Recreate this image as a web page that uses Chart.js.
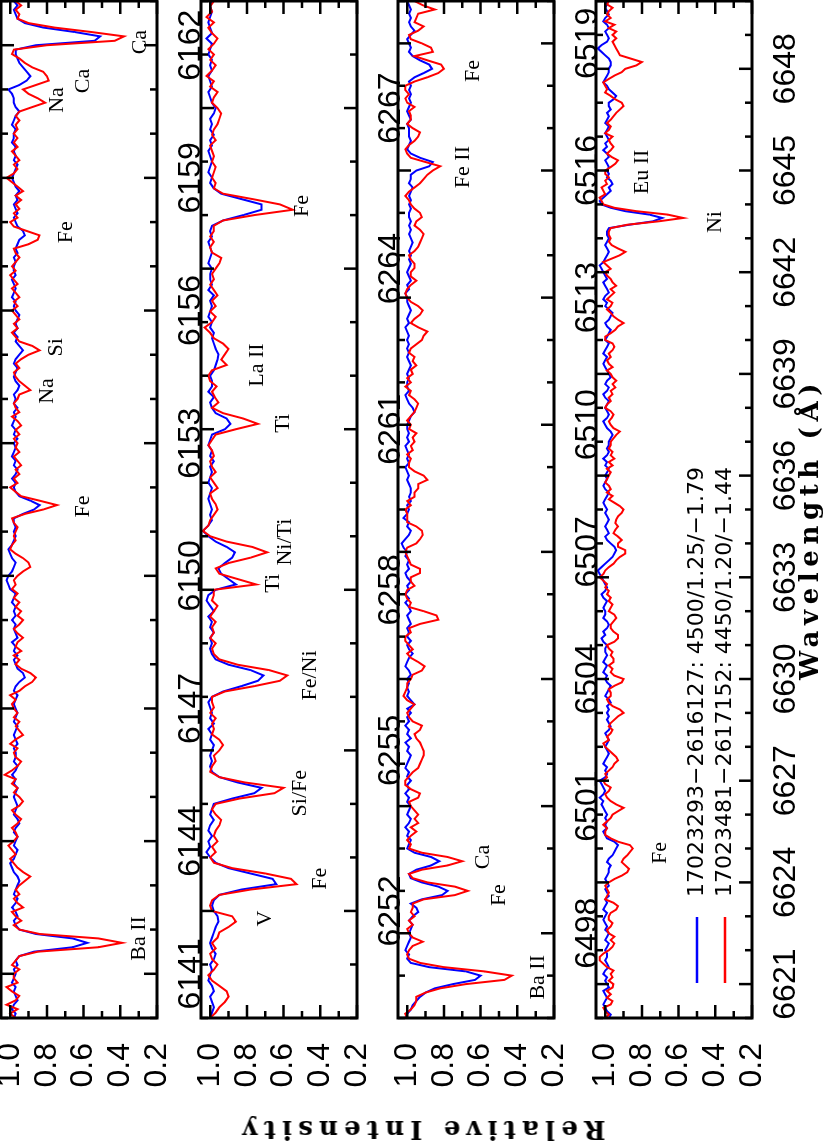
<!DOCTYPE html>
<html>
<head>
<meta charset="utf-8">
<script src="https://cdn.jsdelivr.net/npm/chart.js@4.4.1/dist/chart.umd.min.js"></script>
<style>
html, body { margin: 0; padding: 0; background: #fff; }
body { width: 831px; height: 1144px; overflow: hidden; position: relative; }
#fig { position: absolute; left: 0; top: 0; width: 1144px; height: 831px;
       transform-origin: 0 0; transform: translate(0, 1144px) rotate(-90deg); }
#fig canvas { position: absolute; left: 0; }
.title { position: absolute; font-family: "DejaVu Serif", serif; font-weight: bold;
         font-size: 26px; line-height: 1; white-space: nowrap; color: #000; }
#xtitle { left: 464px; top: 796px; letter-spacing: 5.6px; }
#ytitle { left: 14px; top: 421px; letter-spacing: 6.2px; transform: translate(-50%, -50%) rotate(-90deg); }
</style>
</head>
<body>
<div id="fig">
  <canvas id="p1" width="1144" height="216" style="top:-9px"></canvas>
  <canvas id="p2" width="1144" height="216" style="top:191px"></canvas>
  <canvas id="p3" width="1144" height="216" style="top:388px"></canvas>
  <canvas id="p4" width="1144" height="216" style="top:586px"></canvas>
  <div class="title" id="xtitle">Wavelength (Å)</div>
  <div class="title" id="ytitle">Relative Intensity</div>
</div>
<script>
const step = 0.1;
const star1 = '17023293\u22122616127: 4500/1.25/\u22121.79';
const star2 = '17023481\u22122617152: 4450/1.20/\u22121.44';

const intensityTicks = [0.2, 0.4, 0.6, 0.8, 1.0];
const p1Ticks = [6141, 6144, 6147, 6150, 6153, 6156, 6159, 6162];
const p2Ticks = [6252, 6255, 6258, 6261, 6264, 6267];
const p3Ticks = [6498, 6501, 6504, 6507, 6510, 6513, 6516, 6519];
const p4Ticks = [6621, 6624, 6627, 6630, 6633, 6636, 6639, 6642, 6645, 6648];

const p1Range = [6140, 6163];
const p2Range = [6250, 6269];
const p3Range = [6496, 6520];
const p4Range = [6620, 6650];

const p1Blue = [
  0.98,0.97,0.99,0.98,0.96,0.97,0.98,0.97,0.99,0.98,
  0.97,0.98,0.96,0.97,0.95,0.87,0.66,0.58,0.66,0.86,
  0.95,0.97,0.98,0.96,0.97,0.99,0.97,0.96,0.98,0.97,
  0.96,0.95,0.96,0.98,0.99,1.00,0.98,0.97,0.96,0.98,
  0.97,0.96,0.98,0.97,0.95,0.96,0.98,0.97,0.96,0.97,
  0.98,0.97,0.96,0.98,0.97,0.99,0.97,0.96,0.98,0.97,
  0.97,0.98,0.96,0.97,0.98,0.97,0.96,0.98,0.97,0.96,
  0.97,0.98,0.97,0.96,0.98,0.97,0.95,0.92,0.93,0.96,
  0.97,0.98,0.96,0.98,0.97,0.99,0.96,0.97,0.98,0.97,
  0.99,0.97,0.98,0.97,0.99,0.98,0.97,1.00,1.01,1.02,
  1.01,0.99,0.98,0.97,0.99,1.00,1.01,0.99,0.98,0.97,
  0.98,0.97,0.98,0.98,0.93,0.87,0.84,0.89,0.95,0.97,
  0.98,0.97,0.99,0.97,0.96,0.98,0.97,0.99,0.98,0.97,
  0.98,0.96,0.98,0.97,0.99,0.98,0.97,0.98,0.96,0.98,
  0.97,0.98,0.96,0.95,0.97,0.98,0.97,0.96,0.98,0.97,
  0.95,0.93,0.95,0.97,0.96,0.98,0.96,0.97,0.96,0.95,
  0.97,0.98,0.97,0.99,0.98,0.97,0.98,0.99,0.97,0.98,
  0.98,0.97,0.98,0.96,0.97,0.96,0.95,0.92,0.93,0.96,
  0.97,0.98,0.96,0.97,0.98,0.96,0.97,0.95,0.97,0.98,
  0.99,0.98,0.97,0.96,0.98,0.97,0.98,0.97,0.99,0.98,
  0.98,0.97,0.99,0.98,0.97,0.95,0.97,0.98,0.98,0.99,
  1.01,0.95,0.91,0.89,0.91,0.93,0.95,0.96,0.97,0.97,
  0.86,0.54,0.51,0.65,0.82,0.92,0.96,0.97,0.98,0.96,
  0.98
];
const p1Red = [
  0.97,1.00,0.96,1.02,0.97,0.95,0.99,1.02,0.96,0.98,
  0.98,0.95,0.99,0.97,0.95,0.85,0.52,0.39,0.52,0.84,
  0.95,0.98,0.94,0.97,0.99,0.93,0.96,0.98,0.95,0.97,
  0.95,0.92,0.89,0.93,0.96,0.98,1.00,0.97,0.99,1.01,
  0.98,0.96,0.97,0.99,0.96,0.94,0.97,0.99,0.95,0.93,
  0.95,0.98,0.96,0.99,0.97,1.03,0.99,0.96,0.94,0.97,
  0.98,0.96,1.00,0.97,0.93,0.95,0.97,0.95,0.98,0.96,
  0.98,0.99,0.97,1.00,0.95,0.92,0.88,0.86,0.89,0.94,
  0.97,0.95,0.98,0.94,0.97,0.96,0.93,0.96,0.98,0.95,
  0.93,0.96,0.94,0.97,0.95,0.98,0.96,0.99,0.97,0.98,
  0.96,0.93,0.89,0.90,0.93,0.97,1.00,0.99,0.97,0.98,
  0.97,0.96,0.98,0.99,0.92,0.82,0.745,0.84,0.94,0.97,
  1.00,0.96,0.98,0.95,0.97,0.94,0.96,0.98,0.95,0.97,
  0.96,0.98,0.95,0.97,0.94,0.96,0.99,0.95,0.97,0.98,
  0.96,0.95,0.89,0.92,0.95,0.97,0.98,0.95,0.97,0.94,
  0.90,0.84,0.88,0.95,0.97,0.99,0.96,0.98,0.95,0.97,
  0.99,0.96,0.98,0.95,0.97,0.99,0.96,0.98,1.00,0.97,
  0.99,0.97,0.95,0.97,0.98,0.90,0.85,0.84,0.91,0.98,
  1.00,0.96,0.98,0.95,0.97,0.94,0.97,0.93,0.96,0.99,
  1.02,0.98,0.96,0.98,0.95,0.97,0.99,0.96,0.98,0.96,
  0.98,0.96,0.97,0.95,0.97,0.95,0.88,0.81,0.85,0.90,
  0.93,0.86,0.79,0.80,0.82,0.88,0.92,0.95,0.99,0.98,
  0.80,0.43,0.38,0.56,0.76,0.90,0.96,0.95,0.97,0.94,
  0.97
];

const p2Blue = [
  1.00,0.99,0.98,0.99,1.00,0.98,0.99,1.01,1.00,0.99,
  1.00,0.98,0.97,0.99,1.00,0.99,0.98,0.97,0.955,0.96,
  0.98,0.99,0.98,0.95,0.83,0.64,0.66,0.78,0.90,0.97,
  1.00,1.02,1.00,1.01,0.99,1.01,1.00,0.98,1.00,0.99,
  0.98,0.88,0.76,0.72,0.85,0.95,0.99,1.00,0.99,1.00,
  0.99,0.98,1.00,0.99,1.01,0.98,1.00,0.99,1.00,1.01,
  0.99,0.93,0.83,0.74,0.71,0.78,0.90,0.97,0.99,1.00,
  0.99,1.00,0.98,1.00,0.99,1.01,0.98,1.00,1.02,1.01,
  0.97,0.86,0.90,0.94,0.955,0.92,0.88,0.865,0.91,0.97,
  1.01,1.04,1.01,0.99,1.00,0.99,1.00,1.01,1.00,0.99,
  1.01,1.00,0.99,1.00,0.98,1.00,0.99,1.01,1.00,0.99,
  0.92,0.89,0.91,0.97,0.99,1.00,0.98,1.01,0.99,0.99,
  1.00,0.98,0.97,0.96,0.955,0.97,0.98,0.99,0.98,1.00,
  0.99,1.01,1.00,0.99,1.00,0.98,1.01,0.99,1.00,1.00,
  0.99,1.01,1.00,0.99,1.00,1.01,0.99,1.00,0.99,0.93,
  0.82,0.72,0.72,0.83,0.94,0.98,1.00,0.99,1.01,1.00,
  0.99,1.00,1.01,0.99,1.00,0.98,1.00,0.99,1.00,0.98,
  0.97,0.99,1.00,1.01,0.99,1.00,1.01,0.99,1.00,0.99,
  1.01,1.00,0.99,1.02,0.99,1.00,1.01,1.00,0.99,1.00,
  0.99
];
const p2Red = [
  1.00,0.97,0.95,0.92,0.90,0.91,0.95,0.99,1.01,0.98,
  0.96,0.99,1.00,0.97,0.99,0.96,0.95,0.90,0.86,0.88,
  0.99,1.00,0.99,0.95,0.78,0.53,0.56,0.70,0.88,0.98,
  1.00,0.97,0.99,0.96,0.98,0.97,0.95,0.94,0.97,0.99,
  0.97,0.84,0.65,0.60,0.81,0.95,1.00,0.99,0.97,0.98,
  0.95,0.93,0.95,0.99,0.98,0.99,0.97,1.00,0.98,0.99,
  0.99,0.92,0.76,0.62,0.58,0.68,0.85,0.95,0.98,0.99,
  0.97,1.00,0.98,0.99,0.97,1.00,0.98,0.96,0.99,0.98,
  0.98,0.75,0.85,0.95,0.97,0.90,0.78,0.69,0.77,0.91,
  1.00,1.04,1.01,1.00,0.98,0.96,0.97,0.99,1.00,0.96,
  0.98,1.00,0.97,0.99,1.00,0.98,0.99,1.01,0.99,0.97,
  0.86,0.74,0.82,0.93,0.99,0.955,0.975,0.99,0.965,1.00,
  1.01,0.99,0.91,0.94,0.92,0.90,0.93,0.98,1.00,1.03,
  0.99,0.97,1.00,0.97,0.99,0.96,0.98,1.00,0.98,0.99,
  0.97,0.95,0.94,0.99,1.00,0.98,1.00,0.98,0.98,0.93,
  0.76,0.55,0.62,0.77,0.93,0.98,0.97,0.99,0.98,0.97,
  0.99,0.98,0.99,1.00,0.97,0.99,0.98,0.96,0.95,0.94,
  0.96,0.99,0.98,0.96,1.00,0.98,1.02,0.99,0.97,1.00,
  0.98,1.01,0.98,0.96,0.99,1.01,0.98,1.02,0.99,1.00,
  0.98
];

const p3Blue = [
  1.01,1.00,0.98,0.97,0.95,0.93,0.90,0.85,0.75,0.63,
  0.60,0.68,0.88,0.98,1.00,0.99,1.01,1.00,0.99,0.98,
  0.99,0.98,0.97,0.99,0.97,0.94,0.95,0.98,0.92,0.81,
  0.78,0.83,0.92,0.98,0.99,0.95,0.87,0.825,0.87,0.96,
  1.00,0.99,0.98,1.00,0.99,1.01,0.99,0.98,1.00,0.99,
  0.98,1.00,0.99,1.01,0.99,1.00,0.98,1.00,0.99,1.01,
  1.00,0.99,0.98,1.00,0.99,1.01,0.98,1.00,0.99,1.01,
  0.99,1.00,0.98,1.00,0.96,0.98,1.00,0.99,1.00,0.99,
  1.00,0.98,0.99,1.01,1.00,0.99,0.97,0.99,1.00,0.98,
  1.00,0.99,1.00,0.98,0.99,1.00,0.98,0.99,1.01,0.99,
  1.01,0.99,1.00,0.98,1.00,1.01,0.99,1.00,0.99,1.01,
  1.00,1.02,1.03,1.01,0.99,0.98,1.00,0.99,1.02,1.00,
  0.99,1.00,0.98,0.99,0.98,0.98,0.99,1.00,0.99,1.00,
  1.01,0.99,1.00,0.99,1.00,1.01,0.99,1.00,0.99,1.00,
  1.00,0.99,0.98,0.96,0.97,0.99,1.00,1.01,0.99,1.00,
  1.00,0.99,1.00,0.99,0.98,0.99,1.00,0.99,1.00,0.99,
  1.00,0.99,1.00,1.01,0.99,1.00,0.99,0.98,0.99,1.00,
  1.00,1.01,0.99,1.00,0.98,0.99,1.00,0.99,0.98,0.99,
  0.98,0.99,0.98,0.97,0.98,0.99,0.98,0.99,0.98,0.99,
  0.99,0.98,0.99,0.98,0.99,0.98,0.97,0.99,0.98,0.98,
  0.95,0.88,0.86,0.93,0.98,1.00,0.99,0.98,0.99,0.99,
  0.99,1.00,0.98,0.99,1.00,0.99,0.98,0.99,0.98,0.99,
  0.98,0.99,0.96,0.91,0.865,0.88,0.93,0.97,0.99,0.98,
  0.99,1.00,0.98,0.96,0.98,0.99,0.98,0.99,0.98,0.99,
  1.00
];
const p3Red = [
  1.00,1.01,0.98,0.96,0.95,0.95,0.90,0.82,0.68,0.47,
  0.43,0.58,0.80,0.93,0.99,1.00,0.99,0.97,0.915,0.97,
  0.99,1.00,0.97,0.99,0.96,0.98,0.97,0.97,0.91,0.74,
  0.67,0.74,0.89,0.97,0.99,0.92,0.78,0.70,0.78,0.92,
  0.99,0.98,1.00,0.98,0.95,0.98,0.94,0.96,0.94,0.96,
  0.98,0.99,0.94,0.93,0.98,1.01,1.01,0.99,0.97,0.94,
  0.93,0.92,0.91,0.91,0.92,0.93,0.95,0.96,0.93,0.92,
  0.97,0.99,1.00,0.98,0.96,1.00,1.02,1.01,1.00,1.00,
  0.98,0.97,0.92,0.905,0.94,0.98,1.00,0.97,0.99,1.01,
  1.01,0.98,0.99,0.93,0.83,0.84,0.91,0.99,0.98,1.00,
  1.01,1.00,0.96,0.98,0.98,0.93,0.93,0.98,0.99,1.00,
  1.01,1.00,0.95,0.93,0.915,0.92,0.95,1.00,1.00,1.00,
  1.01,0.98,1.00,0.96,0.96,0.94,0.94,0.89,0.91,0.96,
  0.99,0.99,0.98,1.00,0.97,0.98,0.96,0.97,0.95,0.99,
  0.98,1.00,0.98,0.96,0.95,0.94,0.96,0.99,0.98,1.01,
  0.98,1.00,0.97,0.98,0.95,0.97,0.96,0.99,0.98,0.95,
  0.92,0.91,0.89,0.94,0.98,0.96,0.93,0.915,0.94,0.98,
  1.00,1.01,1.00,0.98,0.95,0.98,0.98,0.96,0.96,0.98,
  0.99,0.96,0.94,0.93,0.92,0.91,0.93,0.96,0.95,0.92,
  0.93,0.96,0.98,0.99,1.01,0.99,0.96,0.93,0.91,0.89,
  0.86,0.82,0.90,0.98,1.00,1.01,0.99,0.96,0.94,0.93,
  0.97,1.00,0.98,0.98,0.99,0.96,1.00,1.01,0.99,1.01,
  1.01,0.96,0.89,0.83,0.80,0.815,0.89,0.96,0.86,0.87,
  0.92,0.98,0.99,0.94,0.91,0.96,0.95,0.94,0.85,0.915,
  0.96
];

const p4Blue = [
  0.98,0.97,0.99,1.00,1.01,1.00,0.99,1.00,1.01,0.98,
  0.99,1.00,0.99,1.01,1.00,0.98,0.99,1.00,0.99,0.99,
  1.00,0.99,0.98,1.00,0.99,0.98,1.00,0.99,1.00,1.01,
  1.00,0.99,1.01,1.00,0.99,1.00,0.98,0.99,1.00,0.98,
  0.99,1.00,0.99,0.98,0.98,0.97,0.99,0.98,0.96,0.95,
  0.94,0.93,0.95,0.99,1.00,1.01,0.99,1.00,0.99,1.00,
  0.99,1.00,1.01,1.02,1.01,1.03,1.01,1.00,1.01,1.02,
  1.03,1.00,0.99,1.00,0.99,1.01,1.00,0.99,0.98,0.99,
  1.00,0.99,0.98,0.99,1.00,0.98,0.97,0.98,0.99,0.98,
  0.99,0.98,0.99,0.97,0.98,1.00,0.99,0.98,0.97,0.99,
  1.00,0.99,1.01,1.00,0.99,1.01,1.00,0.99,1.00,1.00,
  0.99,1.01,1.02,1.00,1.01,0.99,0.98,0.99,1.01,1.00,
  1.00,1.01,1.00,0.99,1.01,1.02,1.00,0.99,1.00,1.01,
  1.02,1.03,1.04,1.02,1.00,0.98,0.96,0.95,0.94,0.95,
  0.97,0.99,1.00,0.98,0.99,1.00,0.99,0.98,0.99,1.00,
  0.99,1.00,1.01,1.00,0.99,0.98,1.00,1.01,1.00,0.99,
  1.00,0.99,0.98,1.00,0.99,1.01,0.99,0.98,0.99,0.98,
  0.98,0.97,0.96,0.97,0.99,1.00,1.01,0.99,0.98,0.99,
  1.00,0.99,0.98,1.00,1.01,0.99,0.98,1.00,0.99,0.97,
  0.98,0.99,1.00,1.01,1.00,0.99,1.01,1.00,0.99,0.98,
  1.00,0.99,0.98,0.97,0.99,1.00,0.98,0.97,0.96,0.98,
  1.00,0.99,1.01,1.00,0.98,0.99,1.00,1.01,0.99,1.00,
  1.01,1.02,1.03,1.01,1.00,0.99,0.98,0.99,1.00,0.99,
  0.98,0.99,0.99,0.98,0.87,0.74,0.69,0.76,0.89,0.97,
  1.02,1.03,1.01,0.99,0.97,0.98,0.96,0.97,0.99,0.98,
  0.99,0.98,0.99,1.00,0.98,0.99,1.01,0.99,1.00,0.98,
  0.99,1.00,0.99,0.98,1.00,0.99,0.98,0.99,0.97,0.98,
  0.98,0.955,0.94,0.96,0.98,0.99,1.01,1.00,0.99,0.98,
  0.98,0.97,0.97,0.98,1.00,1.02,1.04,1.02,0.99,0.98,
  0.99,1.00,0.98,0.99,1.01,1.00,0.98,0.99,1.00,0.99,
  1.00
];
const p4Red = [
  1.00,0.98,1.00,1.01,0.97,0.96,0.99,0.97,0.99,0.96,
  0.955,0.98,0.96,0.97,0.955,0.99,1.01,1.03,1.03,1.01,
  0.98,0.96,0.95,0.97,0.95,0.98,0.99,0.97,0.96,0.98,
  0.98,0.97,0.94,0.93,0.955,1.00,0.99,0.98,0.99,1.00,
  0.98,0.95,0.91,0.88,0.87,0.89,0.91,0.90,0.88,0.865,
  0.85,0.865,0.93,0.97,1.00,1.00,0.99,1.01,0.99,0.97,
  0.96,0.93,0.90,0.94,0.97,0.99,1.00,0.98,0.97,1.00,
  1.01,0.99,1.00,0.98,0.96,0.95,0.93,0.94,0.96,0.98,
  1.00,1.01,0.98,0.99,0.97,0.96,0.98,0.97,0.95,0.93,
  0.90,0.92,0.96,0.98,0.99,0.97,0.97,0.98,0.95,0.91,
  0.90,0.95,0.97,0.96,0.98,0.955,0.955,0.97,0.96,0.98,
  0.99,0.95,0.93,0.93,0.955,0.97,0.97,0.955,0.94,0.95,
  0.98,0.97,0.96,0.98,0.97,0.99,0.98,1.00,0.99,1.01,
  1.03,1.01,1.00,0.98,0.955,0.94,0.92,0.89,0.89,0.93,
  0.93,0.91,0.93,0.955,0.945,0.93,0.945,0.94,0.93,0.91,
  0.90,0.92,0.95,0.98,0.96,0.99,0.97,0.98,1.00,0.99,
  0.98,0.97,0.99,0.96,0.98,0.95,0.97,0.96,0.98,0.97,
  0.97,0.955,0.94,0.92,0.955,0.97,0.98,0.965,0.955,0.97,
  1.00,0.99,0.97,0.98,0.96,0.97,0.945,0.96,0.94,0.96,
  0.97,0.99,0.96,0.98,0.99,0.97,0.98,0.96,0.95,0.96,
  1.00,1.00,0.97,0.945,0.93,0.90,0.93,0.955,0.97,0.99,
  0.97,0.96,0.99,0.97,0.95,0.97,0.94,0.96,0.97,0.99,
  1.00,0.97,0.99,1.01,0.965,0.92,0.89,0.93,0.965,0.98,
  0.97,0.98,0.98,0.97,0.88,0.71,0.575,0.66,0.83,0.95,
  1.01,1.02,1.03,1.00,1.01,1.02,0.99,1.00,0.98,1.00,
  1.00,0.97,0.945,0.93,0.965,0.99,0.97,0.955,0.97,0.98,
  0.96,1.00,0.98,0.97,0.99,0.97,0.955,0.94,0.92,0.90,
  0.91,0.945,0.97,1.00,0.99,1.00,1.01,0.98,0.95,0.91,
  0.89,0.83,0.80,0.86,0.92,0.93,0.94,0.95,0.96,0.94,
  0.96,0.94,0.98,0.95,1.00,0.97,0.99,0.98,0.96,0.99,
  0.98
];

// line identifications: [text, wavelength, intensity]
const p1Lines = [['Ca', 6162.07, 0.29], ['Ca', 6161.19, 0.60], ['Na', 6160.76, 0.744],
  ['Fe', 6157.77, 0.695], ['Si', 6155.17, 0.75], ['Na', 6154.18, 0.80],
  ['Fe', 6151.57, 0.60], ['Ba II', 6141.8, 0.296]];
const p2Lines = [['Fe', 6265.17, 0.498], ['La II', 6262.2, 0.744], ['Ti', 6261.11, 0.60],
  ['Ni/Ti', 6258.89, 0.59], ['Ti', 6258.12, 0.657], ['Fe/Ni', 6256.4, 0.454],
  ['Si/Fe', 6254.2, 0.51], ['Fe', 6252.6, 0.40], ['V', 6251.86, 0.70]];
const p3Lines = [['Fe', 6518.35, 0.64], ['Fe II', 6516.08, 0.695], ['Ca', 6499.8, 0.586],
  ['Fe', 6498.9, 0.50], ['Ba II', 6496.96, 0.285]];
const p4Lines = [['Eu II', 6644.96, 0.80], ['Ni', 6643.48, 0.40], ['Fe', 6624.87, 0.70]];

function toPoints(start, vals) {
  return vals.map((v, i) => ({ x: Math.round((start + i * step) * 10) / 10, y: v }));
}

const tickFont = { family: '"Liberation Sans", Arial, Helvetica, sans-serif', size: 32 };

function decor(lines, withLegend) {
  return {
    id: 'decor',
    afterDatasetsDraw(chart) {
      const { ctx, chartArea: a, scales: { x, y } } = chart;
      ctx.save();
      ctx.fillStyle = '#000';
      ctx.font = '22px "Liberation Serif", "Times New Roman", serif';
      ctx.textAlign = 'center';
      ctx.textBaseline = 'middle';
      lines.forEach(([t, w, v]) => ctx.fillText(t, x.getPixelForValue(w), y.getPixelForValue(v)));

      // inward ticks on all four sides
      const major = x.ticks.map(t => t.value);
      ctx.strokeStyle = '#000';
      ctx.lineWidth = 2.5;
      ctx.beginPath();
      for (let w = Math.ceil(x.min); w <= x.max; w++) {
        const px = x.getPixelForValue(w);
        const len = major.includes(w) ? 13 : 7;
        ctx.moveTo(px, a.top); ctx.lineTo(px, a.top + len);
        ctx.moveTo(px, a.bottom); ctx.lineTo(px, a.bottom - len);
      }
      for (let k = 2; k <= 10; k++) {
        const py = y.getPixelForValue(k / 10);
        const len = k % 2 ? 7 : 13;
        ctx.moveTo(a.left, py); ctx.lineTo(a.left + len, py);
        ctx.moveTo(a.right, py); ctx.lineTo(a.right - len, py);
      }
      ctx.stroke();
      ctx.lineWidth = 3;
      ctx.strokeRect(a.left, a.top, a.right - a.left, a.bottom - a.top);

      if (withLegend) {
        ctx.font = '22px "DejaVu Sans", sans-serif';
        ctx.textAlign = 'left';
        chart.data.datasets.forEach((ds, i) => {
          const yy = a.top + 101 + i * 28;
          ctx.strokeStyle = ds.borderColor;
          ctx.lineWidth = 2.5;
          ctx.beginPath(); ctx.moveTo(161, yy); ctx.lineTo(227, yy); ctx.stroke();
          ctx.fillText(ds.label, 247, yy);
        });
      }
      ctx.restore();
    }
  };
}

function makePanel(id, range, ticks, blue, red, lines, withLegend) {
  new Chart(document.getElementById(id), {
    type: 'line',
    data: {
      datasets: [
        { label: star1, data: toPoints(range[0], blue), borderColor: '#0000ff', borderWidth: 2, pointRadius: 0, order: 1 },
        { label: star2, data: toPoints(range[0], red), borderColor: '#ff0000', borderWidth: 2, pointRadius: 0, order: 0 }
      ]
    },
    options: {
      responsive: false,
      animation: false,
      devicePixelRatio: 1,
      layout: { padding: { top: 10, right: 1, left: 0, bottom: 0 } },
      scales: {
        x: {
          type: 'linear', min: range[0], max: range[1],
          grid: { display: false }, border: { display: false },
          afterBuildTicks: s => { s.ticks = ticks.map(v => ({ value: v })); },
          afterFit: s => { s.height = 50; s.paddingLeft = 0; s.paddingRight = 0; },
          ticks: { font: tickFont, color: '#000', padding: 7, autoSkip: false, maxRotation: 0, minRotation: 0,
                   callback: v => String(v) }
        },
        y: {
          min: 0.2, max: 1.05,
          grid: { display: false }, border: { display: false },
          afterBuildTicks: s => { s.ticks = intensityTicks.map(v => ({ value: v })); },
          afterFit: s => { s.width = 126; s.paddingTop = 0; s.paddingBottom = 0; },
          ticks: { font: tickFont, color: '#000', padding: 17, autoSkip: false, callback: v => v.toFixed(1) }
        }
      },
      plugins: { legend: { display: false }, tooltip: { enabled: false } }
    },
    plugins: [decor(lines, withLegend)]
  });
}

makePanel('p1', p1Range, p1Ticks, p1Blue, p1Red, p1Lines, false);
makePanel('p2', p2Range, p2Ticks, p2Blue, p2Red, p2Lines, false);
makePanel('p3', p3Range, p3Ticks, p3Blue, p3Red, p3Lines, false);
makePanel('p4', p4Range, p4Ticks, p4Blue, p4Red, p4Lines, true);
</script>
</body>
</html>
